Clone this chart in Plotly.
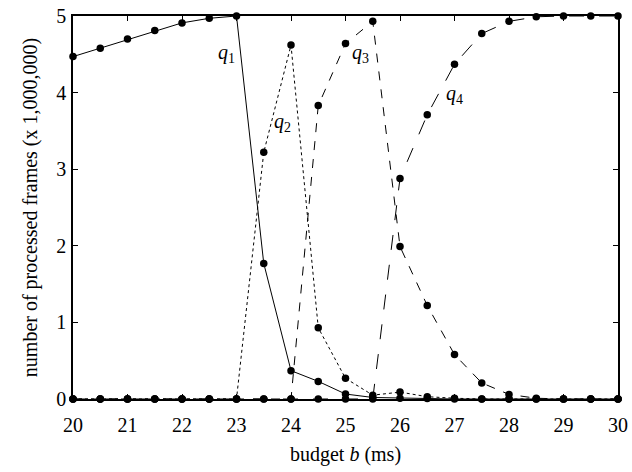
import plotly.graph_objects as go

budget = [20, 20.5, 21, 21.5, 22, 22.5, 23, 23.5, 24, 24.5, 25, 25.5, 26, 26.5, 27, 27.5, 28, 28.5, 29, 29.5, 30]
q1 = [4.47, 4.58, 4.70, 4.81, 4.91, 4.97, 5.00, 1.77, 0.37, 0.23, 0.065, 0.02, 0.01, 0.005, 0, 0, 0, 0, 0, 0, 0]
q2 = [0, 0, 0, 0, 0, 0, 0, 3.22, 4.62, 0.93, 0.27, 0.05, 0.09, 0.03, 0.01, 0, 0, 0, 0, 0, 0]
q3 = [0, 0, 0, 0, 0, 0, 0, 0, 0, 3.83, 4.64, 4.93, 1.99, 1.22, 0.58, 0.21, 0.06, 0.01, 0, 0, 0]
q4 = [0, 0, 0, 0, 0, 0, 0, 0, 0, 0, 0, 0, 2.88, 3.71, 4.37, 4.77, 4.93, 4.99, 5.00, 5.00, 5.00]

series = [("q1", q1, "solid"), ("q2", q2, "dot"), ("q3", q3, "dash"), ("q4", q4, "longdash")]
labels = [("q", "1", 22.81, 4.51), ("q", "2", 23.85, 3.61), ("q", "3", 25.28, 4.51), ("q", "4", 27.0, 3.97)]

FONT = "Liberation Serif"

fig = go.Figure()
for name, vals, dash in series:
    fig.add_trace(go.Scatter(
        x=budget, y=vals, mode="lines+markers", name=name,
        line=dict(color="black", width=1, dash=dash),
        marker=dict(color="black", size=7.5, symbol="circle"),
        cliponaxis=False, showlegend=False,
    ))

for base, sub, lx, ly in labels:
    fig.add_annotation(x=lx, y=ly, text=f"<i>{base}</i><sub>{sub}</sub>", showarrow=False,
                       font=dict(family=FONT, size=20, color="black"))

axis_common = dict(
    showline=True, linecolor="black", linewidth=1.5, mirror="ticks",
    ticks="inside", ticklen=5, tickwidth=1, tickcolor="black",
    showgrid=False, zeroline=False, automargin=False,
    tickfont=dict(family=FONT, size=20, color="black"),
)

fig.update_xaxes(range=[20, 30], dtick=1, tick0=20, ticklabelstandoff=7,
                 title=dict(text="budget <i>b</i> (ms)", font=dict(family=FONT, size=20, color="black"), standoff=12),
                 **axis_common)
fig.update_yaxes(range=[0, 5], dtick=1, tick0=0, ticklabelstandoff=1,
                 title=dict(text="number of processed frames (x 1,000,000)", font=dict(family=FONT, size=20, color="black"), standoff=13),
                 **axis_common)

fig.update_layout(
    width=632, height=472,
    margin=dict(l=73, r=14, t=16, b=73),
    plot_bgcolor="white", paper_bgcolor="white",
)

fig.write_html("out.html", config={"displayModeBar": False},
               post_script="document.body.style.margin='0';")
